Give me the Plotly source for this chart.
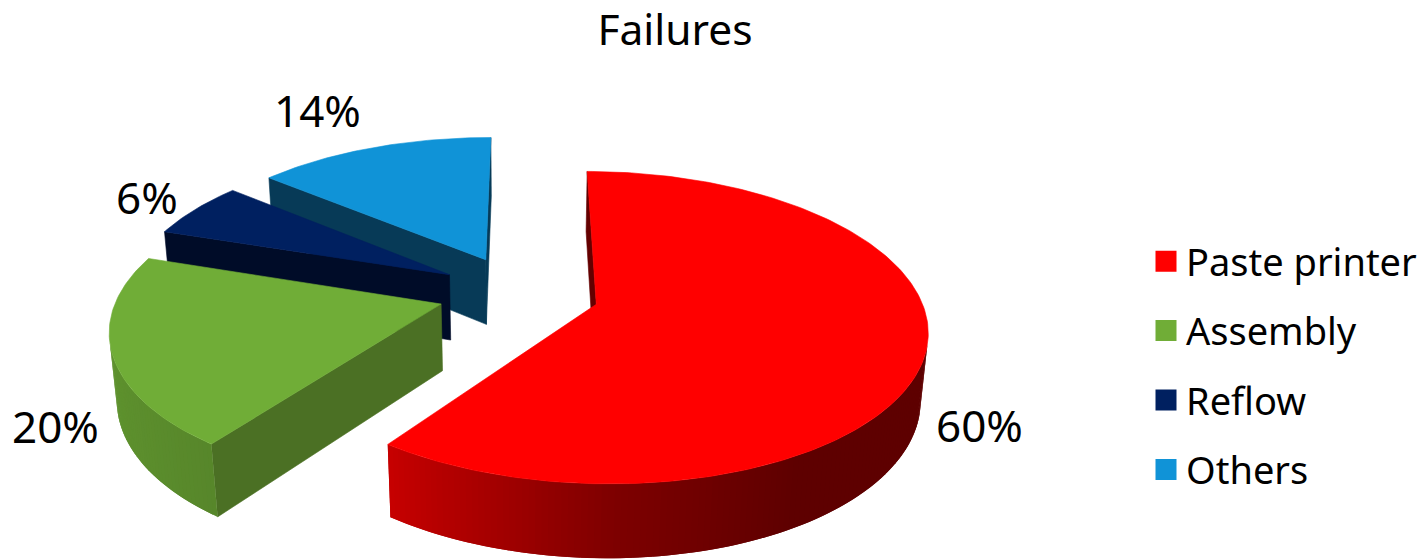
import numpy as np
import plotly.graph_objects as go

# --- data ---
categories = ["Paste printer", "Assembly", "Reflow", "Others"]
values = [60, 20, 6, 14]
top_colors = ["#FF0000", "#70AD37", "#002060", "#1093D7"]
wall_colors = ["#640000", "#4B7024", "#000C28", "#073A57"]
title_text = "Failures"

# --- pie camera / layout parameters ---
W, H_PX = 1423, 559
CX, CY = 519.5, 292.5
SCALE = 323.0
TILT = np.arcsin(0.462)
DIST = 6.0
THICK = 0.235
EXPLODE = 0.25
ROTATION = 0.2
LABEL_XY = [(981, 425), (56, 426), (147, 197), (318, 110)]


def project(X, Z, h):
    d = DIST - Z * np.cos(TILT) - h * np.sin(TILT)
    f = SCALE * DIST
    return CX + f * X / d, CY + f * (Z * np.sin(TILT) - h * np.cos(TILT)) / d


def scale_rgb(hex_color, k):
    r, g, b = (int(hex_color[i:i + 2], 16) for i in (1, 3, 5))
    return f"rgb({int(r * k)},{int(g * k)},{int(b * k)})"


def poly(fig, xs, ys, color, lw=0.6):
    fig.add_trace(go.Scatter(
        x=list(xs) + [xs[0]], y=list(ys) + [ys[0]], mode="lines", fill="toself",
        fillcolor=color, line=dict(color=color, width=lw),
        hoverinfo="skip", showlegend=False))


def facing(px, pz, nx, nz):
    cam_x, cam_z = 0.0, DIST * np.cos(TILT)
    return nx * (cam_x - px) + nz * (cam_z - pz) > 0


fig = go.Figure()
total = sum(values)
edges = ROTATION + np.concatenate([[0], np.cumsum(values)]) / total * 360.0

for i in [3, 2, 1, 0]:
    a0, a1 = edges[i], edges[i + 1]
    mid = np.radians((a0 + a1) / 2)
    ox, oz = EXPLODE * np.sin(mid), -EXPLODE * np.cos(mid)
    t = np.radians(np.arange(a0, a1 + 0.01, 1.0))
    if t[-1] < np.radians(a1):
        t = np.append(t, np.radians(a1))
    rx, rz = ox + np.sin(t), oz - np.cos(t)

    # radial walls
    for th, sign, px, pz in ((t[0], -1, rx[0], rz[0]), (t[-1], 1, rx[-1], rz[-1])):
        nx, nz = sign * np.cos(th), sign * np.sin(th)
        if facing(px, pz, nx, nz):
            ax0, ay0 = project(ox, oz, 0)
            ax1, ay1 = project(px, pz, 0)
            ax2, ay2 = project(px, pz, -THICK)
            ax3, ay3 = project(ox, oz, -THICK)
            poly(fig, [ax0, ax1, ax2, ax3], [ay0, ay1, ay2, ay3], wall_colors[i])

    # rim wall: strips overlap the next one so no seams show
    for j in range(len(t) - 1):
        tm = (t[j] + t[j + 1]) / 2
        nx, nz = np.sin(tm), -np.cos(tm)
        if not facing(ox + nx, oz + nz, nx, nz):
            continue
        k = np.interp(nx, [-1, -0.59, 0, 0.5, 1], [0.85, 0.78, 0.5, 0.37, 0.37])
        idx = list(range(j, min(j + 3, len(t))))
        xt, yt = project(rx[idx], rz[idx], 0)
        xb, yb = project(rx[idx], rz[idx], -THICK)
        poly(fig, list(xt) + list(xb[::-1]), list(yt) + list(yb[::-1]),
             scale_rgb(top_colors[i], k), lw=0)

    # top face
    tx, ty = project(rx, rz, 0)
    apx, apy = project(ox, oz, 0)
    poly(fig, [apx] + list(tx), [apy] + list(ty), top_colors[i])

# legend entries
for i, name in enumerate(categories):
    fig.add_trace(go.Scatter(
        x=[None], y=[None], mode="markers", name=name, legendgroup=name,
        marker=dict(symbol="square", size=16, color=top_colors[i],
                    line=dict(color=top_colors[i], width=5))))

font = "Noto Sans, sans-serif"
annotations = [
    dict(x=x, y=y, text=f"{v}%", showarrow=False, xref="x", yref="y",
         font=dict(family=font, size=44, color="#000000"))
    for (x, y), v in zip(LABEL_XY, values)
]

fig.update_layout(
    width=W, height=H_PX, autosize=False,
    margin=dict(l=0, r=0, t=0, b=0),
    paper_bgcolor="#FFFFFF", plot_bgcolor="#FFFFFF",
    title=dict(text=title_text, x=675 / W, xanchor="center", y=1 - 30 / H_PX, yanchor="middle",
               font=dict(family=font, size=42.5, color="#000000")),
    xaxis=dict(range=[0, W], visible=False, fixedrange=True),
    yaxis=dict(range=[H_PX, 0], visible=False, fixedrange=True),
    legend=dict(x=1148 / W, y=1 - 230 / H_PX, xanchor="left", yanchor="top",
                font=dict(family=font, size=38, color="#000000"),
                tracegroupgap=17, itemsizing="trace", bgcolor="rgba(0,0,0,0)"),
    annotations=annotations,
    showlegend=True,
)
fig.write_html("out.html", config={"displayModeBar": False},
               post_script="document.body.style.margin='0';document.body.style.overflow='hidden';")
